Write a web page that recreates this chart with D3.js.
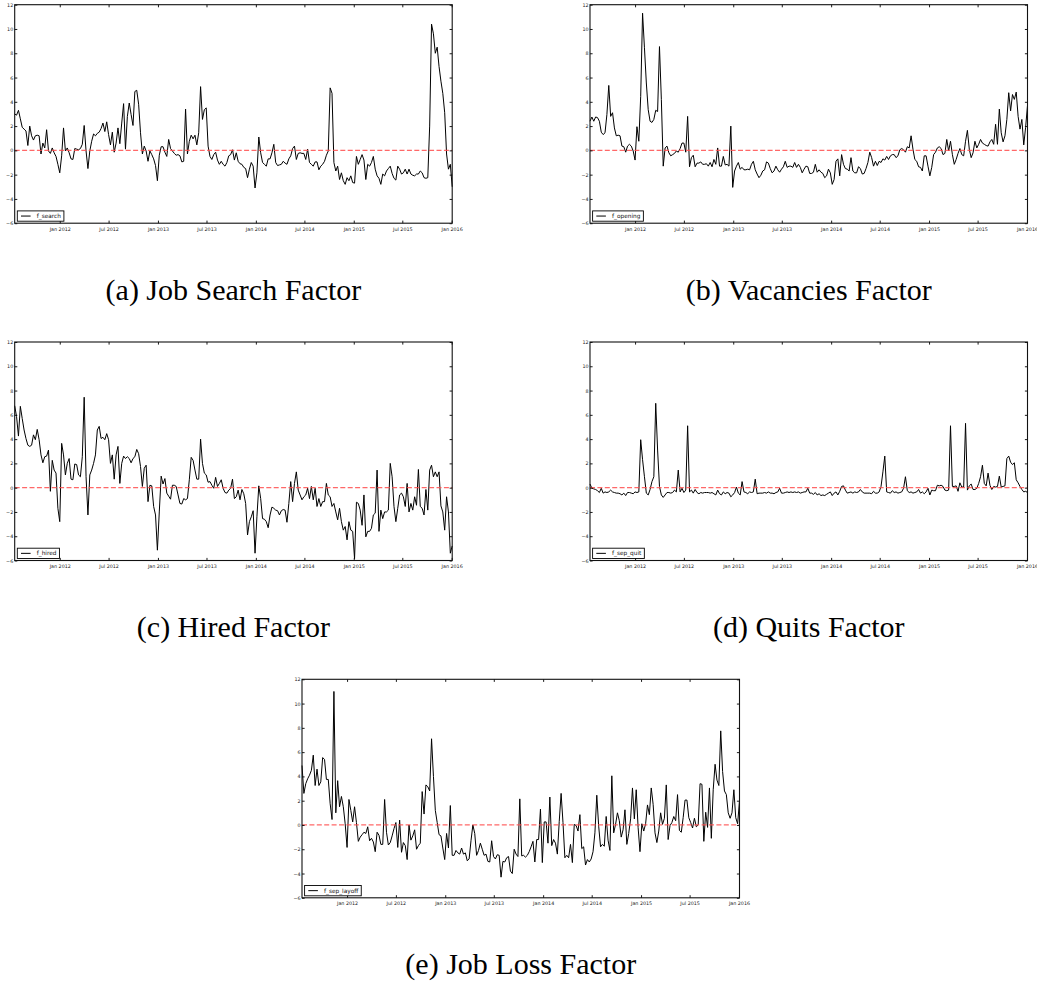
<!DOCTYPE html>
<html>
<head>
<meta charset="utf-8">
<script src="https://cdn.jsdelivr.net/npm/d3@7"></script>
<style>
  body { margin: 0; background: #fff; }
  svg { display: block; }
  .tick text { font-family: "DejaVu Sans", sans-serif; fill: #222; }
  .caption { font-family: "Liberation Serif", "Times New Roman", serif; fill: #000; }
</style>
</head>
<body>
<div id="chart-area"></div>
<script>
// weekly series, first week 17 Jul 2011, last week 3 Jan 2016
const START_DATE = "2011-07-17"

const fSearch = [3.0, 2.9, 3.3, 2.6, 1.9, 1.75, 1.6, 0.4, 2.0, 1.2,
  0.85, 1.2, 1.25, 1.2, -0.3, 0.6, 0.2, 1.7, -0.05, -0.25,
  0.2, -0.2, -0.5, -1.15, -1.85, -0.45, 1.85, -0.05, 0.2, -0.2,
  -0.7, -0.75, 0.15, 0.1, 0.05, 0.15, 0.5, 2.05, -0.05, -1.5,
  -0.05, 0.75, 1.35, 1.2, 1.4, 1.5, 1.8, 2.25, 1.55, 2.35,
  1.3, 0.45, 1.5, -0.15, 0.6, 1.85, 0.55, 2.25, 3.85, 0.1,
  2.8, 3.9, 2.95, 2.05, 4.85, 4.95, 3.8, 1.45, -0.3, 0.35,
  -0.05, -0.9, -0.05, -0.35, -0.7, -1.25, -2.5, -0.4, 0.3, 0.3,
  -0.15, -0.5, 0.9, 0.15, -0.05, -0.25, -0.4, -0.35, -0.45, -0.95,
  -0.9, 3.4, -0.3, 0.75, 1.25, 0.95, 1.25, 0.45, 1.45, 5.25,
  2.55, 3.35, 3.5, 0.35, -0.5, -0.75, -0.35, -0.15, -0.8, -1.15,
  -0.9, -1.15, -1.3, -1.0, -0.45, -0.35, 0.05, -0.8, -0.2, -0.9,
  -1.1, -1.15, -1.4, -1.5, -2.25, -1.55, -1.0, -1.3, -3.1, -1.85,
  1.1, -0.2, -1.0, -1.15, -1.3, -0.7, -0.7, -0.2, 0.5, -1.0,
  -1.25, -1.2, -1.15, -0.9, -1.05, -1.15, -0.7, -0.45, 0.15, 0.35,
  -0.75, -0.25, -0.2, -0.25, -0.25, -0.75, 0.1, -1.0, -1.15, -1.3,
  -0.95, -0.95, -1.6, -1.3, -1.15, -0.9, -0.4, -0.05, 5.15, 4.7,
  -1.0, -1.7, -1.3, -2.4, -1.85, -2.5, -2.8, -2.25, -2.5, -2.1,
  -2.65, -2.7, -0.5, -1.15, -0.75, -0.35, -0.8, -2.4, -1.15, -1.3,
  -1.0, -0.5, -1.55, -2.1, -2.3, -2.8, -1.95, -2.1, -1.7, -1.5,
  -1.3, -1.9, -2.3, -2.45, -1.3, -1.55, -1.95, -1.85, -1.55, -1.95,
  -1.55, -1.95, -2.05, -2.1, -1.95, -1.95, -1.7, -1.85, -2.25, -2.3,
  -2.25, 2.0, 10.4, 9.6, 8.0, 8.5, 6.9, 5.7, 4.7, 3.1,
  -0.3, -1.55, -1.15, -3.0]

const fOpening = [2.4, 2.75, 2.4, 2.75, 2.7, 2.4, 1.5, 1.3, 1.45, 2.95,
  5.35, 2.8, 3.1, 1.85, 1.2, 1.25, 1.2, 0.35, 0.3, -0.15,
  0.35, 0.5, 0.35, -0.05, -0.8, 1.95, 0.75, 4.45, 11.3, 8.45,
  5.55, 3.35, 2.4, 2.3, 2.55, 3.3, 3.2, 8.55, 4.2, -1.3,
  0.2, 0.35, -0.2, -0.45, -0.35, -0.25, -0.05, -0.15, 0.15, 0.6,
  0.6, -0.15, 2.8, -1.35, -0.6, -0.4, -1.35, -1.05, -1.05, -0.95,
  -1.15, -1.15, -1.1, -1.3, -1.0, -1.35, -0.75, -1.15, 0.2, -1.3,
  -1.3, -0.5, -1.2, -1.15, -1.3, 2.0, -3.05, -1.7, -1.3, -1.0,
  -1.55, -1.4, -1.6, -1.6, -1.55, -1.6, -1.15, -0.9, -1.6, -1.95,
  -2.25, -2.05, -1.7, -1.6, -0.95, -1.05, -1.5, -1.85, -1.7, -1.3,
  -1.6, -1.8, -1.55, -1.35, -0.9, -1.4, -1.3, -1.3, -1.4, -1.0,
  -1.4, -1.15, -1.4, -1.85, -1.55, -1.3, -1.35, -1.9, -1.9, -1.8,
  -1.15, -1.8, -1.6, -1.8, -1.9, -2.25, -2.1, -1.55, -1.85, -2.8,
  -2.4, -0.9, -0.7, -2.1, -0.35, -1.15, -1.5, -1.55, -1.7, -0.6,
  -1.7, -1.85, -1.85, -1.35, -1.5, -1.95, -1.9, -1.5, -1.0, -0.15,
  -0.6, -1.3, -0.9, -1.25, -0.9, -1.0, -0.7, -0.8, -0.5, -0.75,
  -0.45, -0.35, -0.35, -0.6, -0.45, 0.05, 0.15, 0.05, -0.15, 0.3,
  0.2, 1.2, 0.1, -0.75, -0.9, -1.35, -1.4, -1.7, -0.45, -0.45,
  -1.3, -2.1, -1.4, -0.35, -0.15, 0.2, 0.3, 0.15, -0.35, -0.25,
  0.9, -0.05, 0.75, -0.35, -1.15, -0.75, -0.25, 0.15, -0.35, -0.45,
  0.75, 1.65, 0.1, -0.6, -0.2, 0.75, 0.2, 0.5, 0.9, 0.6,
  0.5, 0.4, 0.35, 0.7, 0.9, 0.5, 2.15, 0.5, 3.4, 1.45,
  0.7, 1.2, 2.55, 4.75, 3.25, 4.6, 4.2, 4.8, 2.8, 1.75,
  2.55, 0.45, 1.9, 3.7]

const fHired = [6.75, 5.85, 4.25, 6.7, 5.7, 4.75, 4.05, 3.5, 3.4, 3.5,
  4.35, 3.95, 4.8, 3.95, 2.7, 2.05, 2.55, 2.6, 3.1, -0.3,
  2.25, 1.45, 1.2, -1.7, -2.8, 3.65, 2.7, 1.05, 2.0, 2.4,
  0.7, 0.65, 1.95, 1.9, 1.05, 0.9, 2.55, 7.45, 0.9, -2.25,
  1.05, 1.45, 2.0, 2.7, 4.75, 5.05, 4.05, 4.15, 3.95, 4.45,
  3.95, 2.0, 2.7, 0.7, 2.7, 3.4, 0.35, 2.0, 2.6, 2.4,
  2.55, 2.4, 2.05, 2.4, 2.55, 3.15, 2.8, 1.75, 0.1, 1.6,
  1.85, -1.15, 0.2, 0.15, -1.55, -2.25, -5.15, -2.0, 0.95, 0.3,
  0.75, -0.45, -0.7, -0.95, 0.2, 0.2, 0.1, -0.6, -1.3, -1.35,
  -0.9, -1.0, -0.9, 0.65, 2.5, 2.25, 1.45, 0.7, 0.7, 4.0,
  2.0, 1.2, 1.05, 0.45, 0.5, 0.2, -0.05, 0.85, 0.1, 0.35,
  0.65, -0.05, -0.4, -0.45, -0.2, -0.05, 0.7, -0.9, -0.75, -0.2,
  -1.0, -0.15, -0.5, -1.3, -3.9, -2.8, -2.4, -1.9, -5.4, -2.4,
  0.15, -0.9, -2.55, -2.6, -2.8, -3.3, -2.25, -1.6, -1.7, -1.85,
  -1.9, -2.25, -1.9, -1.8, -1.85, -2.85, -1.3, 0.5, -1.15, 0.35,
  1.3, -0.2, -0.6, -1.0, -0.75, -0.6, -0.05, -0.9, 0.1, -1.0,
  -0.05, -1.55, -0.9, -1.55, -1.15, -1.15, 0.35, -0.6, -0.75, -1.55,
  -1.3, -2.0, -2.65, -1.7, -2.8, -3.5, -3.2, -4.3, -2.8, -3.5,
  -3.6, -5.85, -1.2, -1.3, -1.85, -3.1, -0.6, -4.05, -3.6, -3.6,
  -3.35, -2.25, -2.1, 1.45, -3.6, -1.85, -2.55, -2.0, -2.0, -1.85,
  2.0, 0.9, -1.55, -2.8, -1.7, -0.6, -0.45, -0.75, -1.55, 0.35,
  -2.0, -1.3, -1.85, -0.75, -1.45, 1.5, -1.55, -1.7, -2.25, -0.15,
  -1.85, 1.45, 1.85, 0.9, 1.3, 0.9, 1.3, -1.5, -2.0, -3.5,
  -0.75, -2.0, -5.4, -4.8]

const fSepQuit = [0.3, -0.05, -0.1, -0.15, -0.25, -0.4, -0.05, -0.45, -0.35, -0.4,
  -0.35, -0.2, -0.35, -0.4, -0.45, -0.45, -0.5, -0.6, -0.45, -0.65,
  -0.4, -0.4, -0.45, -0.5, -0.35, -0.4, -0.35, 3.95, 2.3, 0.9,
  -0.45, -0.6, -0.15, 0.5, 0.9, 6.95, 3.1, 0.1, -0.6, -0.8,
  -0.6, -0.4, -0.4, -0.45, -0.4, -0.2, -0.35, 1.45, -0.35, -0.05,
  -0.4, -0.2, 5.1, -0.35, -0.2, -0.45, -0.15, -0.4, -0.5, -0.4,
  -0.45, -0.4, -0.4, -0.4, -0.45, -0.4, -0.5, -0.6, -0.2, -0.5,
  -0.6, -0.35, -0.5, -0.4, -0.45, -0.75, -0.6, -0.4, 0.05, -0.45,
  -0.6, 0.5, -0.35, -0.4, -0.5, -0.35, -0.4, -0.35, 0.7, -0.5,
  -0.45, -0.45, -0.45, -0.4, -0.45, -0.35, -0.45, -0.45, -0.5, -0.4,
  -0.35, -0.05, -0.45, -0.45, -0.4, -0.35, -0.4, -0.35, -0.4, -0.35,
  -0.4, -0.35, -0.45, -0.4, -0.35, -0.35, -0.05, -0.45, -0.45, -0.55,
  -0.4, -0.6, -0.5, -0.65, -0.6, -0.65, -0.55, -0.45, -0.35, -0.65,
  -0.45, -0.35, -0.6, -0.3, 0.1, 0.15, -0.2, -0.45, -0.4, -0.35,
  -0.45, -0.35, -0.4, -0.35, -0.15, -0.35, -0.45, -0.45, -0.45, -0.45,
  -0.5, -0.3, -0.45, -0.45, -0.35, 0.1, 1.3, 2.6, -0.35, -0.4,
  -0.45, -0.25, -0.4, -0.35, -0.45, -0.4, -0.35, -0.05, 0.9, -0.25,
  -0.4, -0.35, -0.45, -0.4, -0.35, -0.15, -0.45, -0.35, -0.5, -0.35,
  -0.05, -0.6, -0.2, -0.25, -0.25, 0.2, 0.15, 0.2, 0.1, -0.2,
  -0.25, -0.2, 5.1, 0.1, 0.1, 0.15, -0.3, 0.4, 0.05, 0.05,
  5.3, -0.2, 0.15, 0.3, -0.15, -0.15, -0.05, 0.35, 0.9, 1.85,
  0.35, 0.15, 1.2, 0.2, -0.15, 0.1, 0.05, 0.1, 0.95, 0.05,
  0.1, 0.15, 2.4, 2.6, 2.1, 1.9, 2.05, 0.65, 0.4, 0.1,
  -0.15, -0.35, -0.3, -0.4]

const fSepLayoff = [4.9, 2.6, 3.4, 3.8, 4.1, 4.5, 5.75, 3.25, 4.6, 3.25,
  3.55, 5.55, 5.4, 3.75, 3.75, 1.75, 0.45, 11.0, 1.0, 3.65,
  1.5, 2.35, 1.5, 0.1, -1.85, 2.1, 1.2, 0.25, 1.5, 0.2,
  -1.35, -1.0, -0.8, -0.6, -0.7, -0.15, -1.3, -1.1, -1.4, -2.2,
  -0.6, -0.85, -1.6, -1.6, 2.1, -0.6, -1.65, -1.45, -0.9, -0.3,
  0.2, -1.85, 0.4, -2.25, -1.45, -1.7, -2.85, 0.0, -1.25, -0.9,
  -0.4, -2.0, -1.7, -1.5, 2.75, 0.9, 3.3, 3.15, 2.8, 7.1,
  4.0, 1.2, 0.2, -0.8, -0.9, -1.9, -2.85, -0.7, -1.9, 1.6,
  -2.5, -2.5, -2.1, -2.3, -2.4, -1.9, -2.4, -2.3, -2.95, -2.8,
  -1.3, 0.0, -0.7, -2.5, -2.1, -1.5, -2.0, -2.5, -2.4, -3.0,
  -3.05, -1.3, -2.6, -2.8, -2.45, -2.5, -4.3, -3.0, -3.05, -2.7,
  -2.6, -3.8, -4.0, -2.0, -2.4, -2.6, 2.15, -2.55, -2.5, -2.65,
  -2.5, -2.2, -1.8, -1.35, -3.05, -1.2, -1.2, 1.3, -3.1, 0.25,
  0.25, -1.5, 2.3, -1.7, -1.2, -1.5, -2.4, 0.3, 2.6, 0.2,
  -2.7, -2.5, -2.7, -1.6, -3.1, 0.05, -0.05, -0.5, 0.85, -1.95,
  -1.8, -3.3, -2.85, -3.05, -2.8, -2.2, -0.65, 2.45, -0.1, -1.8,
  -1.6, -1.75, 0.7, -1.25, -2.1, 4.05, -0.65, 0.05, 1.0, 0.35,
  -1.0, -0.4, 1.25, -1.6, -0.7, 0.5, 3.05, 0.5, 2.9, -0.2,
  -2.2, 0.1, -0.5, 0.1, 1.65, 0.85, 3.05, 1.7, -0.65, -1.45,
  -0.5, 1.0, 0.05, 0.55, 3.3, -1.2, -0.05, 0.2, 0.7, 0.35,
  2.5, -0.45, -0.6, 0.6, 2.05, 2.05, 0.6, 0.2, -0.25, 0.55,
  -0.15, 0.0, 3.4, 3.35, -1.35, 1.05, -0.2, 3.05, -1.1, 2.9,
  5.0, 3.7, 3.25, 7.75, 4.4, 2.8, 2.5, 1.0, 0.55, 1.0,
  2.9, 0.6, 0.1, 2.0]

const seriesNames = ["f_search", "f_opening", "f_hired", "f_sep_quit", "f_sep_layoff"]
const captions = ["(a) Job Search Factor", "(b) Vacancies Factor", "(c) Hired Factor",
  "(d) Quits Factor", "(e) Job Loss Factor"]
const yTickValues = [-6, -4, -2, 0, 2, 4, 6, 8, 10, 12]
const xTickDates = ["2012-01-01", "2012-07-01", "2013-01-01", "2013-07-01", "2014-01-01",
  "2014-07-01", "2015-01-01", "2015-07-01", "2016-01-01"]

const allSeries = [fSearch, fOpening, fHired, fSepQuit, fSepLayoff]

// layout of the five panels (left, top of the axes box)
const PANELS = [
  { x: 14.7, y: 4.7 },
  { x: 590, y: 4.7 },
  { x: 14.7, y: 342 },
  { x: 590, y: 342 },
  { x: 302, y: 679.3 }
]
const W = 437.5
const H = 218.5
const TICK = 2.6

const svg = d3.select("#chart-area").append("svg")
  .attr("width", 1037)
  .attr("height", 982)

svg.append("rect").attr("width", 1037).attr("height", 982).attr("fill", "#fff")

const parse = d3.timeParse("%Y-%m-%d")
const start = parse(START_DATE)
const xTicks = xTickDates.map(parse)
const fmt = d3.timeFormat("%b %Y")

allSeries.forEach((values, k) => {
  const p = PANELS[k]
  const data = values.map((v, i) => ({ date: d3.timeDay.offset(start, 7 * i), value: v }))

  const g = svg.append("g").attr("transform", `translate(${p.x}, ${p.y})`)

  const x = d3.scaleTime()
    .domain(d3.extent(data, d => d.date))
    .range([0, W])
  const y = d3.scaleLinear()
    .domain([-6, 12])
    .range([H, 0])

  // data line
  g.append("path")
    .datum(data)
    .attr("fill", "none")
    .attr("stroke", "#000")
    .attr("stroke-width", 1)
    .attr("stroke-linejoin", "round")
    .attr("d", d3.line().x(d => x(d.date)).y(d => y(d.value)))

  // zero line
  g.append("line")
    .attr("x1", 0).attr("x2", W)
    .attr("y1", y(0)).attr("y2", y(0))
    .attr("stroke", "#ff4d4d")
    .attr("stroke-opacity", 0.85)
    .attr("stroke-width", 1.3)
    .attr("stroke-dasharray", "5,2.4")

  // axes, ticks pointing inwards
  const bottom = g.append("g")
    .attr("transform", `translate(0, ${H})`)
    .call(d3.axisBottom(x).tickValues(xTicks).tickFormat(fmt).tickSize(-TICK).tickPadding(4))
  const top = g.append("g")
    .call(d3.axisTop(x).tickValues(xTicks).tickFormat("").tickSize(-TICK))
  const left = g.append("g")
    .call(d3.axisLeft(y).tickValues(yTickValues).tickSize(-TICK).tickPadding(1.5))
  const right = g.append("g")
    .attr("transform", `translate(${W}, 0)`)
    .call(d3.axisRight(y).tickValues(yTickValues).tickFormat("").tickSize(-TICK))

  ;[bottom, top, left, right].forEach(a => {
    a.select(".domain").remove()
    a.selectAll(".tick line").attr("stroke", "#000").attr("stroke-width", 0.9)
  })
  bottom.selectAll("text").attr("font-size", "4.8px")
  left.selectAll("text").attr("font-size", "4.8px")

  // frame
  g.append("rect")
    .attr("width", W).attr("height", H)
    .attr("fill", "none")
    .attr("stroke", "#111")
    .attr("stroke-width", 1.1)

  // legend
  const lg = g.append("g").attr("transform", `translate(2.6, ${H - 12.3})`)
  const box = lg.append("rect")
    .attr("height", 10.3)
    .attr("fill", "#fff")
    .attr("stroke", "#000")
    .attr("stroke-width", 0.9)
  lg.append("line")
    .attr("x1", 3.7).attr("x2", 13.3)
    .attr("y1", 5.15).attr("y2", 5.15)
    .attr("stroke", "#000").attr("stroke-width", 1)
  const lt = lg.append("text")
    .attr("x", 19.4).attr("y", 7.1)
    .attr("font-family", "DejaVu Sans, sans-serif")
    .attr("font-size", "5.8px")
    .attr("fill", "#111")
    .text(seriesNames[k])
  box.attr("width", 19.4 + lt.node().getComputedTextLength() + 3)

  // caption under the panel
  g.append("text")
    .attr("class", "caption")
    .attr("x", W / 2)
    .attr("y", H + 76.6)
    .attr("text-anchor", "middle")
    .attr("font-size", "30px")
    .text(captions[k])
})
</script>
</body>
</html>
